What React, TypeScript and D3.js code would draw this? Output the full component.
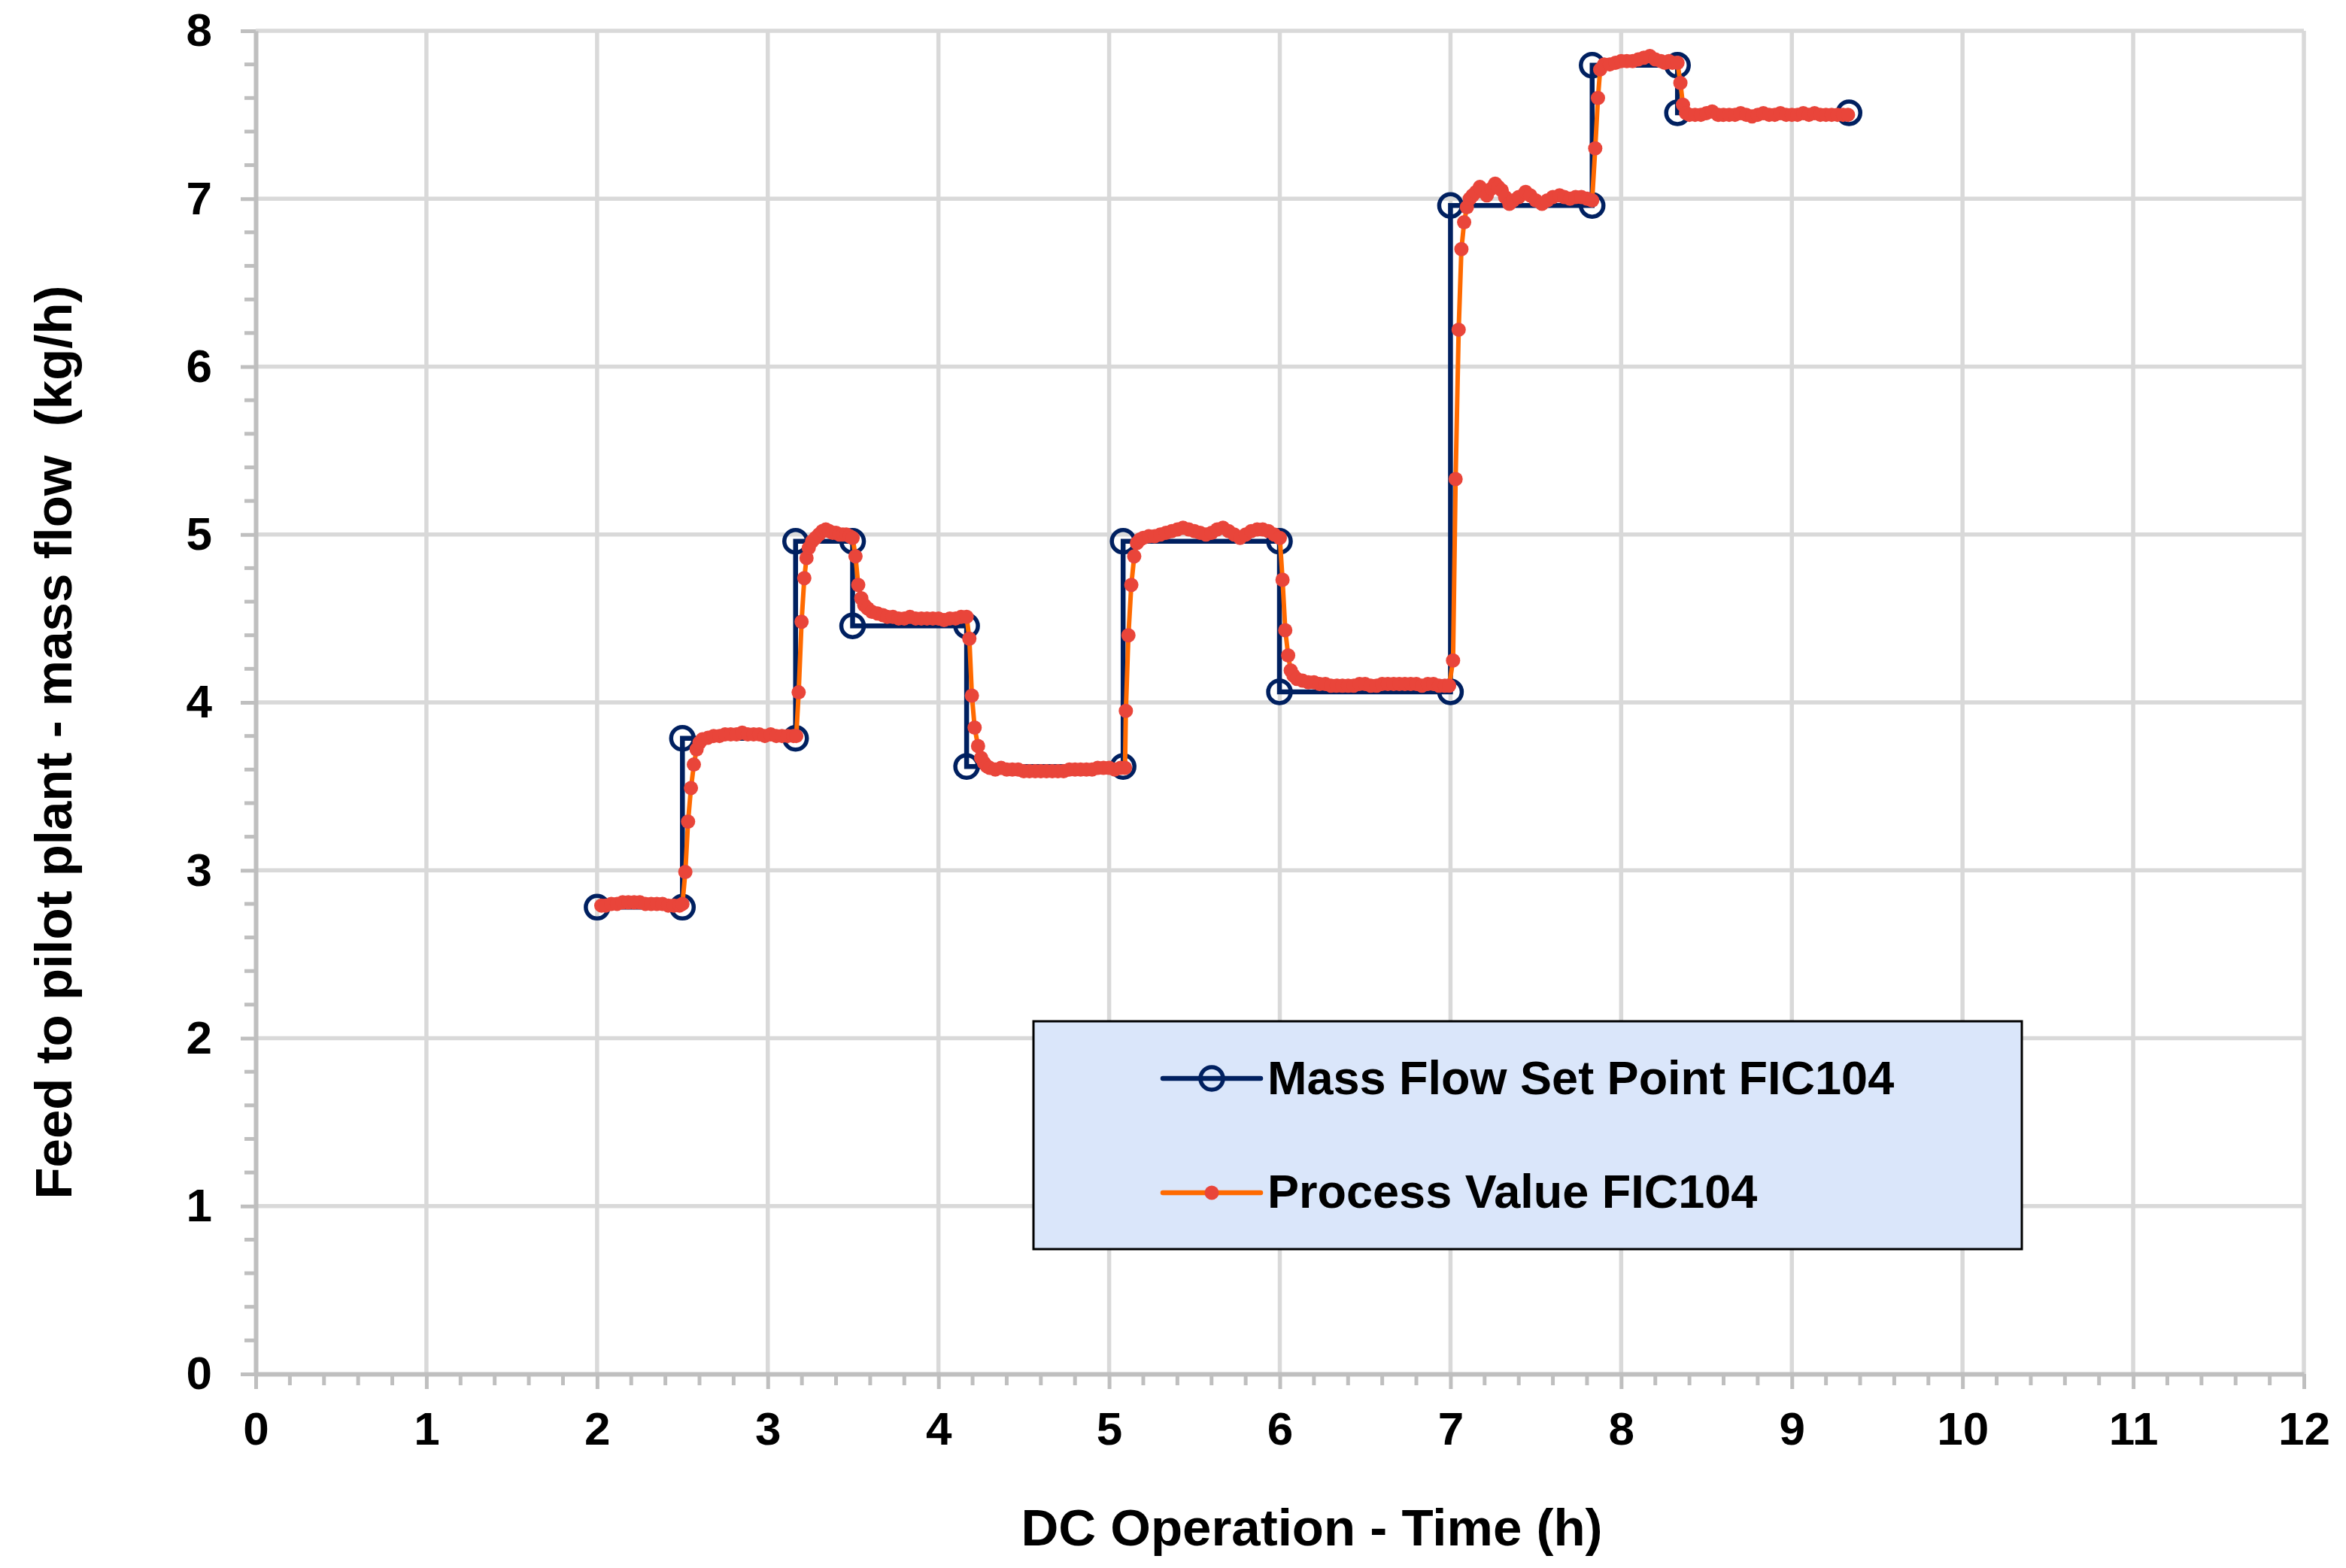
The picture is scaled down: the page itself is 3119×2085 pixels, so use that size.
import { useEffect, useRef } from 'react';
import * as d3 from 'd3';

// Set point FIC104 (step profile, one marker per corner)
const setPointTime = [
  2.0, 2.5, 2.5, 3.163, 3.163, 3.497, 3.497, 4.165, 4.165, 5.082,
  5.082, 5.998, 5.998, 7.0, 7.0, 7.83, 7.83, 8.33, 8.33, 9.335,
];
const setPointValue = [
  2.78, 2.78, 3.786, 3.786, 4.96, 4.96, 4.456, 4.456, 3.618, 3.618,
  4.96, 4.96, 4.063, 4.063, 6.96, 6.96, 7.795, 7.795, 7.512, 7.512,
];

// Process value FIC104
const processTime = [
  2.025, 2.05, 2.083, 2.117, 2.15, 2.183, 2.217, 2.25, 2.283, 2.317, 2.35, 2.383, 2.417, 2.45, 2.483, 2.5,
  2.517, 2.533, 2.55, 2.567, 2.583, 2.6, 2.617,
  2.65, 2.683, 2.717, 2.75, 2.783, 2.817, 2.85, 2.883, 2.917, 2.95, 2.983, 3.017, 3.05, 3.083, 3.117, 3.15, 3.167,
  3.181, 3.198, 3.214, 3.227, 3.24, 3.26, 3.28, 3.3, 3.32, 3.34, 3.36, 3.38, 3.4, 3.42, 3.44, 3.46, 3.48, 3.497,
  3.514, 3.53, 3.548, 3.565, 3.585, 3.61, 3.643, 3.675, 3.7, 3.733, 3.767, 3.8, 3.833, 3.867, 3.9, 3.933, 3.967,
  4.0, 4.033, 4.067, 4.1, 4.133, 4.165,
  4.181, 4.196, 4.212, 4.232, 4.25, 4.267, 4.283, 4.3, 4.333, 4.367, 4.4, 4.433, 4.467, 4.5, 4.533, 4.567, 4.6,
  4.633, 4.667, 4.7, 4.733, 4.767, 4.8, 4.833, 4.867, 4.9, 4.933, 4.967, 5.0, 5.033, 5.067, 5.093,
  5.098, 5.113, 5.13, 5.147, 5.163, 5.18, 5.2, 5.233, 5.267, 5.3, 5.333, 5.367, 5.4, 5.433, 5.467, 5.5, 5.533,
  5.567, 5.6, 5.633, 5.667, 5.7, 5.733, 5.767, 5.8, 5.833, 5.867, 5.9, 5.933, 5.967, 6.0,
  6.016, 6.032, 6.049, 6.064, 6.08, 6.1, 6.133, 6.167, 6.2, 6.233, 6.267, 6.3, 6.333, 6.367, 6.4, 6.433, 6.467,
  6.5, 6.533, 6.567, 6.6, 6.633, 6.667, 6.7, 6.733, 6.767, 6.8, 6.833, 6.867, 6.9, 6.933, 6.967, 6.992,
  7.015, 7.03, 7.048, 7.064, 7.08, 7.096, 7.113, 7.13, 7.15, 7.172, 7.19, 7.213, 7.24, 7.262, 7.28, 7.3, 7.32,
  7.345, 7.367, 7.4, 7.44, 7.467, 7.5, 7.536, 7.567, 7.6, 7.639, 7.667, 7.7, 7.733, 7.767, 7.8, 7.83,
  7.848, 7.864, 7.877, 7.9, 7.933, 7.967, 8.0, 8.033, 8.067, 8.1, 8.133, 8.168, 8.2, 8.233, 8.256, 8.28, 8.3, 8.33,
  8.347, 8.362, 8.38, 8.4, 8.433, 8.467, 8.5, 8.533, 8.567, 8.6, 8.633, 8.667, 8.7, 8.733, 8.767, 8.8, 8.833,
  8.867, 8.9, 8.933, 8.967, 9.0, 9.033, 9.067, 9.1, 9.133, 9.167, 9.2, 9.233, 9.267, 9.3, 9.329,
];
const processValue = [
  2.79, 2.79, 2.8, 2.8, 2.81, 2.81, 2.81, 2.81, 2.8, 2.8, 2.8, 2.8, 2.79, 2.79, 2.79, 2.8,
  2.99, 3.29, 3.49, 3.63, 3.72, 3.76, 3.78,
  3.79, 3.8, 3.8, 3.81, 3.81, 3.81, 3.82, 3.81, 3.81, 3.81, 3.8, 3.81, 3.8, 3.8, 3.8, 3.8, 3.8,
  4.06, 4.48, 4.74, 4.86, 4.92, 4.96, 4.98, 5.0, 5.02, 5.03, 5.02, 5.01, 5.01, 5.0, 5.0, 5.0, 4.99, 4.98,
  4.87, 4.7, 4.62, 4.58, 4.56, 4.54, 4.53, 4.52, 4.51, 4.51, 4.5, 4.5, 4.51, 4.5, 4.5, 4.5, 4.5,
  4.5, 4.49, 4.5, 4.5, 4.51, 4.51,
  4.38, 4.04, 3.85, 3.74, 3.67, 3.64, 3.62, 3.61, 3.6, 3.61, 3.6, 3.6, 3.6, 3.59, 3.59, 3.59, 3.59,
  3.59, 3.59, 3.59, 3.59, 3.6, 3.6, 3.6, 3.6, 3.6, 3.61, 3.61, 3.61, 3.6, 3.61, 3.61,
  3.95, 4.4, 4.7, 4.87, 4.95, 4.97, 4.98, 4.99, 4.99, 5.0, 5.01, 5.02, 5.03, 5.04, 5.03, 5.02, 5.01,
  5.0, 5.01, 5.03, 5.04, 5.02, 5.0, 4.98, 5.0, 5.02, 5.03, 5.03, 5.02, 5.0, 4.98,
  4.73, 4.43, 4.28, 4.19, 4.16, 4.14, 4.13, 4.12, 4.12, 4.11, 4.11, 4.1, 4.1, 4.1, 4.1, 4.1, 4.11,
  4.11, 4.1, 4.1, 4.11, 4.11, 4.11, 4.11, 4.11, 4.11, 4.11, 4.1, 4.11, 4.11, 4.1, 4.1, 4.1,
  4.25, 5.33, 6.22, 6.7, 6.86, 6.95, 7.0, 7.02, 7.04, 7.07, 7.05, 7.02, 7.06, 7.09, 7.07, 7.05, 7.01,
  6.97, 6.99, 7.01, 7.04, 7.02, 6.99, 6.97, 6.99, 7.01, 7.02, 7.01, 7.0, 7.01, 7.01, 7.0, 6.99,
  7.3, 7.6, 7.77, 7.8, 7.8, 7.81, 7.82, 7.82, 7.82, 7.83, 7.84, 7.85, 7.83, 7.82, 7.81, 7.82, 7.81, 7.81,
  7.69, 7.56, 7.51, 7.5, 7.5, 7.5, 7.51, 7.52, 7.5, 7.5, 7.5, 7.5, 7.51, 7.5, 7.49, 7.5, 7.51,
  7.5, 7.5, 7.51, 7.5, 7.5, 7.5, 7.51, 7.5, 7.51, 7.5, 7.5, 7.5, 7.5, 7.5, 7.5,
];

const xTickValues = [0, 1, 2, 3, 4, 5, 6, 7, 8, 9, 10, 11, 12];
const yTickValues = [0, 1, 2, 3, 4, 5, 6, 7, 8];

const seriesNames = ['Mass Flow Set Point FIC104', 'Process Value FIC104'];

const FONT = '"Liberation Sans", Arial, Helvetica, sans-serif';
const NAVY = '#002060';
const ORANGE = '#FF6A00';
const RED = '#E9453A';
const GRID = '#D9D9D9';
const AXIS = '#BFBFBF';

export default function App() {
  const svgRef = useRef<SVGSVGElement>(null);

  useEffect(() => {
    if (!svgRef.current) return;
    document.body.style.margin = '0';

    const svg = d3.select(svgRef.current);
    svg.selectAll('*').remove();

    const x = d3.scaleLinear().domain([0, 12]).range([340, 3063]);
    const y = d3.scaleLinear().domain([0, 8]).range([1827, 41]);

    // Gridlines
    const grid = svg.append('g');
    grid
      .selectAll('line.vgrid')
      .data(xTickValues.filter((d) => d > 0))
      .enter()
      .append('line')
      .attr('x1', (d) => x(d))
      .attr('x2', (d) => x(d))
      .attr('y1', y(0))
      .attr('y2', y(8))
      .attr('stroke', GRID)
      .attr('stroke-width', 5.5);
    grid
      .selectAll('line.hgrid')
      .data(yTickValues.filter((d) => d > 0))
      .enter()
      .append('line')
      .attr('x1', x(0))
      .attr('x2', x(12))
      .attr('y1', (d) => y(d))
      .attr('y2', (d) => y(d))
      .attr('stroke', GRID)
      .attr('stroke-width', 5.5);

    // Minor ticks
    const minorX = d3.range(0, 60).map((i) => i * 0.2).filter((d) => Math.abs(d - Math.round(d)) > 0.01);
    const minorY = d3.range(0, 40).map((i) => i * 0.2).filter((d) => Math.abs(d - Math.round(d)) > 0.01);
    svg
      .append('g')
      .selectAll('line')
      .data(minorX)
      .enter()
      .append('line')
      .attr('x1', (d) => x(d))
      .attr('x2', (d) => x(d))
      .attr('y1', y(0))
      .attr('y2', y(0) + 15)
      .attr('stroke', AXIS)
      .attr('stroke-width', 5);
    svg
      .append('g')
      .selectAll('line')
      .data(minorY)
      .enter()
      .append('line')
      .attr('x1', x(0) - 15)
      .attr('x2', x(0))
      .attr('y1', (d) => y(d))
      .attr('y2', (d) => y(d))
      .attr('stroke', AXIS)
      .attr('stroke-width', 5);

    // Axes
    const xAxis = svg
      .append('g')
      .attr('transform', `translate(0,${y(0)})`)
      .call(
        d3.axisBottom(x).tickValues(xTickValues).tickSize(20).tickSizeOuter(0).tickPadding(30).tickFormat(d3.format('d'))
      );
    const yAxis = svg
      .append('g')
      .attr('transform', `translate(${x(0)},0)`)
      .call(
        d3.axisLeft(y).tickValues(yTickValues).tickSize(20).tickSizeOuter(0).tickPadding(38).tickFormat(d3.format('d'))
      );
    [xAxis, yAxis].forEach((ax) => {
      ax.select('.domain').attr('stroke', AXIS).attr('stroke-width', 6);
      ax.selectAll('.tick line').attr('stroke', AXIS).attr('stroke-width', 5);
      ax.selectAll('.tick text')
        .attr('fill', '#000')
        .attr('font-family', FONT)
        .attr('font-weight', 'bold')
        .attr('font-size', 62);
    });

    // Axis titles
    svg
      .append('text')
      .attr('x', 1744)
      .attr('y', 2055)
      .attr('text-anchor', 'middle')
      .attr('font-family', FONT)
      .attr('font-weight', 'bold')
      .attr('font-size', 69)
      .text('DC Operation - Time (h)');
    svg
      .append('text')
      .attr('transform', 'translate(95,987) rotate(-90)')
      .attr('text-anchor', 'middle')
      .attr('font-family', FONT)
      .attr('font-weight', 'bold')
      .attr('font-size', 69)
      .style('white-space', 'pre')
      .text('Feed to pilot plant - mass flow  (kg/h)');

    // Set point series
    const spData = setPointTime.map((t, i) => [t, setPointValue[i]] as [number, number]);
    const line = d3
      .line<[number, number]>()
      .x((d) => x(d[0]))
      .y((d) => y(d[1]));
    svg
      .append('path')
      .datum(spData)
      .attr('d', line)
      .attr('fill', 'none')
      .attr('stroke', NAVY)
      .attr('stroke-width', 6.5)
      .attr('stroke-linejoin', 'miter');
    svg
      .append('g')
      .selectAll('circle')
      .data(spData)
      .enter()
      .append('circle')
      .attr('cx', (d) => x(d[0]))
      .attr('cy', (d) => y(d[1]))
      .attr('r', 15)
      .attr('fill', 'none')
      .attr('stroke', NAVY)
      .attr('stroke-width', 5.5);

    // Process value series
    const pvData = processTime.map((t, i) => [t, processValue[i]] as [number, number]);
    svg
      .append('path')
      .datum(pvData)
      .attr('d', line)
      .attr('fill', 'none')
      .attr('stroke', ORANGE)
      .attr('stroke-width', 6)
      .attr('stroke-linejoin', 'round');
    svg
      .append('g')
      .selectAll('circle')
      .data(pvData)
      .enter()
      .append('circle')
      .attr('cx', (d) => x(d[0]))
      .attr('cy', (d) => y(d[1]))
      .attr('r', 9.5)
      .attr('fill', RED);

    // Legend
    const legend = svg.append('g');
    legend
      .append('rect')
      .attr('x', 1374)
      .attr('y', 1358)
      .attr('width', 1314)
      .attr('height', 303)
      .attr('fill', '#DAE6FA')
      .attr('stroke', '#000')
      .attr('stroke-width', 3);

    const rows = [
      { name: seriesNames[0], lineY: 1434, textY: 1455, color: NAVY },
      { name: seriesNames[1], lineY: 1586, textY: 1606, color: ORANGE },
    ];
    rows.forEach((r, i) => {
      legend
        .append('line')
        .attr('x1', 1546)
        .attr('x2', 1676)
        .attr('y1', r.lineY)
        .attr('y2', r.lineY)
        .attr('stroke', r.color)
        .attr('stroke-width', 6.5)
        .attr('stroke-linecap', 'round');
      if (i === 0) {
        legend
          .append('circle')
          .attr('cx', 1611)
          .attr('cy', r.lineY)
          .attr('r', 15)
          .attr('fill', 'none')
          .attr('stroke', NAVY)
          .attr('stroke-width', 5.5);
      } else {
        legend.append('circle').attr('cx', 1611).attr('cy', r.lineY).attr('r', 9.5).attr('fill', RED);
      }
      legend
        .append('text')
        .attr('x', 1685)
        .attr('y', r.textY)
        .attr('font-family', FONT)
        .attr('font-weight', 'bold')
        .attr('font-size', 63)
        .text(r.name);
    });
  }, []);

  return (
    <svg
      ref={svgRef}
      width={3119}
      height={2085}
      style={{ display: 'block', background: '#ffffff' }}
    />
  );
}
